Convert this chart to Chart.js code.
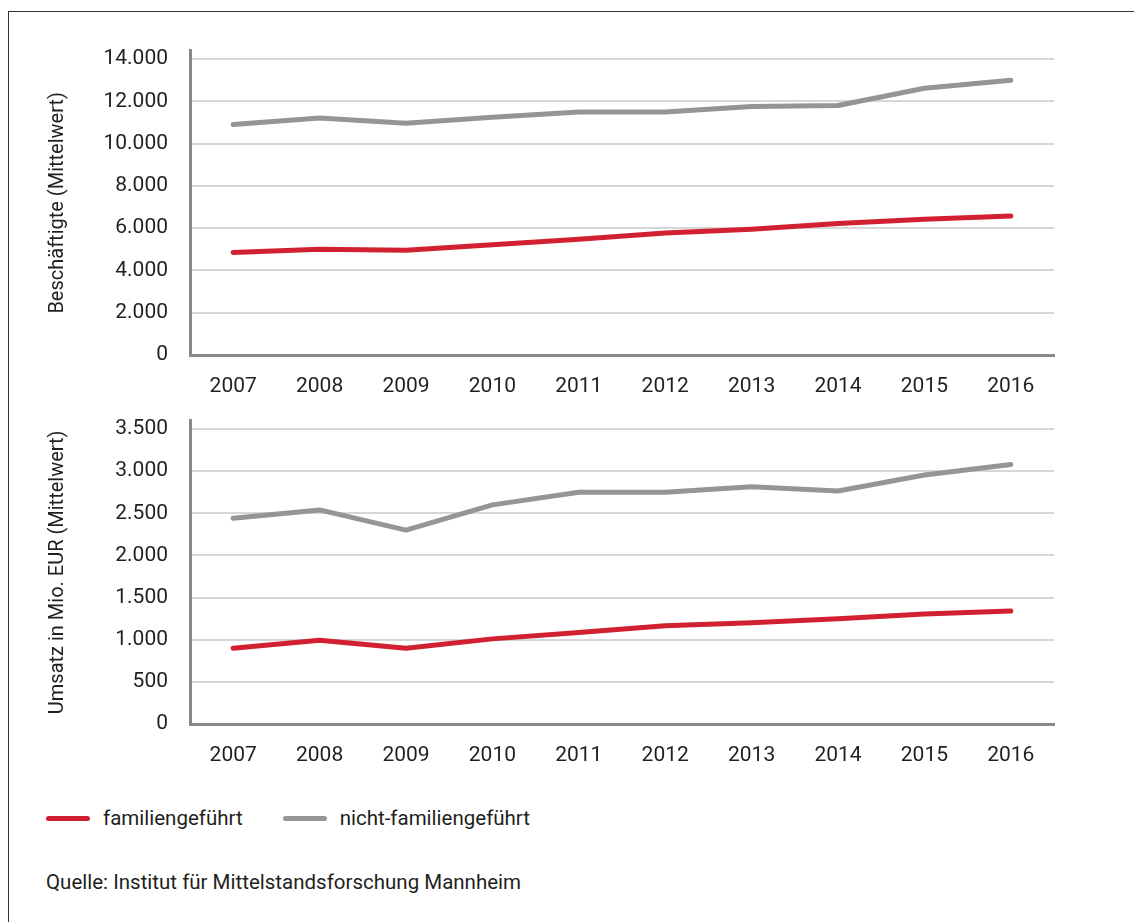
<!DOCTYPE html>
<html lang="de">
<head>
<meta charset="utf-8">
<title>Familiengeführte und nicht-familiengeführte Unternehmen</title>
<script src="https://cdn.jsdelivr.net/npm/chart.js@4.4.1/dist/chart.umd.min.js"></script>
<style>
    html, body { margin: 0; padding: 0; background: #fff; }
    body { width: 1134px; height: 922px; position: relative; overflow: hidden; font-family: Roboto, sans-serif; color: #231f20; }
    .frame { position: absolute; left: 8px; top: 11px; width: 1140px; height: 930px; border: 1.5px solid #333; box-sizing: border-box; }
    .box { position: absolute; left: 30px; width: 1040px; }
    #box1 { top: 16px; height: 394px; }
    #box2 { top: 386px; height: 393px; }
    .legend { position: absolute; top: 806px; left: 46px; font-size: 20.5px; display: flex; align-items: center; }
    .legend .line { display: inline-block; width: 44px; height: 5px; border-radius: 3px; margin-right: 13px; }
    .legend .item { display: flex; align-items: center; margin-right: 40px; }
    .source { position: absolute; top: 870px; left: 46px; font-size: 20.5px; }
</style>
</head>
<body>
<div class="frame"></div>
<div class="box" id="box1"><canvas id="chartEmployees" width="1040" height="394"></canvas></div>
<div class="box" id="box2"><canvas id="chartRevenue" width="1040" height="393"></canvas></div>
<div class="legend">
    <span class="item"><span class="line" style="background:#d1202f"></span>familiengeführt</span>
    <span class="item"><span class="line" style="background:#939598"></span>nicht-familiengeführt</span>
</div>
<div class="source">Quelle: Institut für Mittelstandsforschung Mannheim</div>

<script>
// Jahre und Werte
const years = ['2007', '2008', '2009', '2010', '2011', '2012', '2013', '2014', '2015', '2016'];

const employeesFamily = [4850, 5000, 4950, 5220, 5480, 5770, 5950, 6220, 6420, 6580];
const employeesNonFamily = [10900, 11210, 10960, 11250, 11500, 11500, 11750, 11800, 12620, 13000];
const employeesTicks = [0, 2000, 4000, 6000, 8000, 10000, 12000, 14000];

const revenueFamily = [900, 995, 900, 1010, 1085, 1165, 1200, 1250, 1305, 1340];
const revenueNonFamily = [2440, 2540, 2300, 2600, 2750, 2750, 2815, 2765, 2955, 3080];
const revenueTicks = [0, 500, 1000, 1500, 2000, 2500, 3000, 3500];

const RED = '#d1202f';
const GREY = '#939598';
const AXIS = '#88888b';
const GRID = '#d7d7d8';
const TEXT = '#231f20';

function formatNumber(v) {
    return String(v).replace(/\B(?=(\d{3})+(?!\d))/g, '.');
}

function makeChart(canvasId, family, nonFamily, tickValues, max, title) {
    const ctx = document.getElementById(canvasId).getContext('2d');
    return new Chart(ctx, {
        type: 'line',
        data: {
            labels: years,
            datasets: [
                { label: 'nicht-familiengeführt', data: nonFamily, borderColor: GREY },
                { label: 'familiengeführt', data: family, borderColor: RED }
            ]
        },
        options: {
            responsive: false,
            animation: false,
            layout: { padding: { top: 7, right: 16, left: 0, bottom: 0 } },
            elements: {
                line: { borderWidth: 5, tension: 0, borderCapStyle: 'round', borderJoinStyle: 'round', fill: false },
                point: { radius: 0, hoverRadius: 0 }
            },
            plugins: { legend: { display: false }, tooltip: { enabled: false } },
            scales: {
                x: {
                    offset: true,
                    grid: { display: false, drawTicks: false },
                    border: { display: true, color: AXIS, width: 3 },
                    ticks: { color: TEXT, font: { family: 'Roboto', size: 21 }, padding: 19, maxRotation: 0 },
                    afterFit: (scale) => { scale.height = 55; }
                },
                y: {
                    min: 0,
                    max: max,
                    grid: { color: GRID, lineWidth: 2, drawTicks: false },
                    border: { display: true, color: AXIS, width: 3 },
                    ticks: {
                        color: TEXT,
                        font: { family: 'Roboto', size: 21 },
                        padding: 22,
                        callback: (v) => formatNumber(v)
                    },
                    afterBuildTicks: (scale) => {
                        scale.ticks = tickValues.map(v => ({ value: v }));
                    },
                    title: {
                        display: true,
                        text: title,
                        color: TEXT,
                        font: { family: 'Roboto', size: 20 },
                        padding: { top: 16, bottom: 0 }
                    },
                    afterFit: (scale) => { scale.width = 160; }
                }
            }
        }
    });
}

makeChart('chartEmployees', employeesFamily, employeesNonFamily, employeesTicks, 14400, 'Beschäftigte (Mittelwert)');
makeChart('chartRevenue', revenueFamily, revenueNonFamily, revenueTicks, 3600, 'Umsatz in Mio. EUR (Mittelwert)');
</script>
</body>
</html>
